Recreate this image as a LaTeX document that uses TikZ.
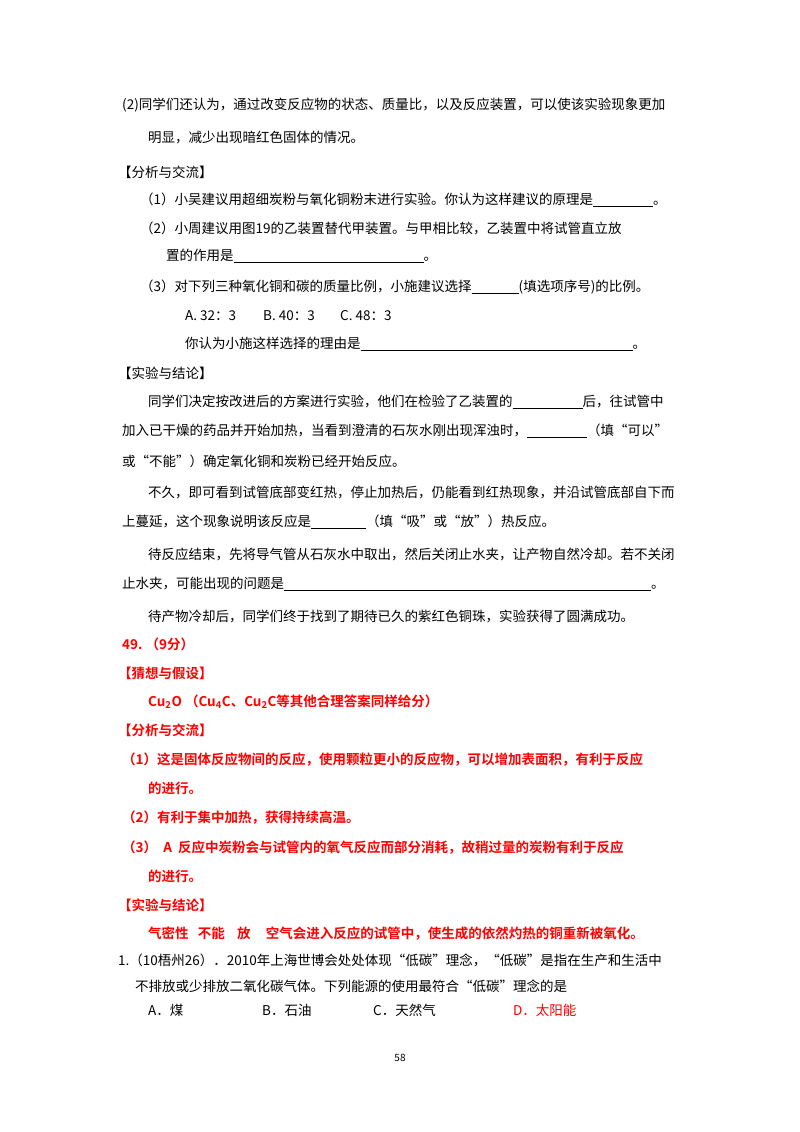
\documentclass[tikz,border=0pt]{standalone}
\usepackage{fontspec}
\setmainfont{Noto Sans CJK SC}[BoldFont={Noto Sans CJK SC Bold}]
\newcommand{\bl}[1]{\rule[-2pt]{#1pt}{0.6pt}}
\begin{document}
\begin{tikzpicture}[x=1pt,y=-1pt,
  t/.style={anchor=west,inner sep=0pt,font=\fontsize{13.5}{14}\selectfont},
  r/.style={t,text=red,font=\fontsize{13.5}{14}\selectfont\bfseries}]
\useasboundingbox[fill=white](0,0) rectangle (800,1132);
\node[t] (l1) at (122,105) {(2)同学们还认为，通过改变反应物的状态、质量比，以及反应装置，可以使该实验现象更加};
\node[t] (l2) at (148,138) {明显，减少出现暗红色固体的情况。};
\node[t] (l3) at (118,172) {【分析与交流】};
\node[t] (l4) at (140,200) {（1）小吴建议用超细炭粉与氧化铜粉末进行实验。你认为这样建议的原理是\bl{60}。};
\node[t] (l5) at (140,228) {（2）小周建议用图19的乙装置替代甲装置。与甲相比较，乙装置中将试管直立放};
\node[t] (l6) at (166,256) {置的作用是\bl{190}。};
\node[t] (l7) at (140,287) {（3）对下列三种氧化铜和碳的质量比例，小施建议选择\bl{47}(填选项序号)的比例。};
\node[t] (a1) at (185,316) {A.\ 32：3};
\node[t] (a2) at (263,316) {B.\ 40：3};
\node[t] (a3) at (340,316) {C.\ 48：3};
\node[t] (l8) at (185,344) {你认为小施这样选择的理由是\bl{272}。};
\node[t] (l9) at (118,373) {【实验与结论】};
\node[t] (l10) at (148,402) {同学们决定按改进后的方案进行实验，他们在检验了乙装置的\bl{70}后，往试管中};
\node[t] (l11) at (122,431) {加入已干燥的药品并开始加热，当看到澄清的石灰水刚出现浑浊时，\bl{60}（填“可以”};
\node[t] (l12) at (122,461) {或“不能”）确定氧化铜和炭粉已经开始反应。};
\node[t] (l13) at (148,492) {不久，即可看到试管底部变红热，停止加热后，仍能看到红热现象，并沿试管底部自下而};
\node[t] (l14) at (122,522) {上蔓延，这个现象说明该反应是\bl{55}（填“吸”或“放”）热反应。};
\node[t] (l15) at (148,554) {待反应结束，先将导气管从石灰水中取出，然后关闭止水夹，让产物自然冷却。若不关闭};
\node[t] (l16) at (122,584) {止水夹，可能出现的问题是\bl{367}。};
\node[t] (l17) at (148,616) {待产物冷却后，同学们终于找到了期待已久的紫红色铜珠，实验获得了圆满成功。};
\node[r] (r1) at (122,644) {49.\ （9分）};
\node[r] (r2) at (118,673) {【猜想与假设】};
\node[r] (r3) at (148,702) {Cu\textsubscript{2}O （Cu\textsubscript{4}C、Cu\textsubscript{2}C等其他合理答案同样给分）};
\node[r] (r4) at (118,730) {【分析与交流】};
\node[r] (r5) at (122,760) {（1）这是固体反应物间的反应，使用颗粒更小的反应物，可以增加表面积，有利于反应};
\node[r] (r6) at (148,788) {的进行。};
\node[r] (r7) at (122,818) {（2）有利于集中加热，获得持续高温。};
\node[r] (r8) at (122,848) {（3）\ \ A\ \ 反应中炭粉会与试管内的氧气反应而部分消耗，故稍过量的炭粉有利于反应};
\node[r] (r9) at (148,876) {的进行。};
\node[r] (r10) at (118,905) {【实验与结论】};
\node[r] (r11) at (148,934) {气密性\ \ \ 不能\ \ \ \ 放\ \ \ \ \ 空气会进入反应的试管中，使生成的依然灼热的铜重新被氧化。};
\node[t] (q1) at (118,960) {1.（10梧州26）．2010年上海世博会处处体现“低碳”理念，“低碳”是指在生产和生活中};
\node[t] (q2) at (135,986) {不排放或少排放二氧化碳气体。下列能源的使用最符合“低碳”理念的是};
\node[t] (o1) at (148,1010) {A．煤};
\node[t] (o2) at (262,1010) {B．石油};
\node[t] (o3) at (373,1010) {C．天然气};
\node[t,text=red] (o4) at (513,1010) {D．太阳能};
\node[inner sep=0pt,font=\fontsize{10}{12}\selectfont] (pg) at (400,1058) {58};
\end{tikzpicture}
\end{document}
